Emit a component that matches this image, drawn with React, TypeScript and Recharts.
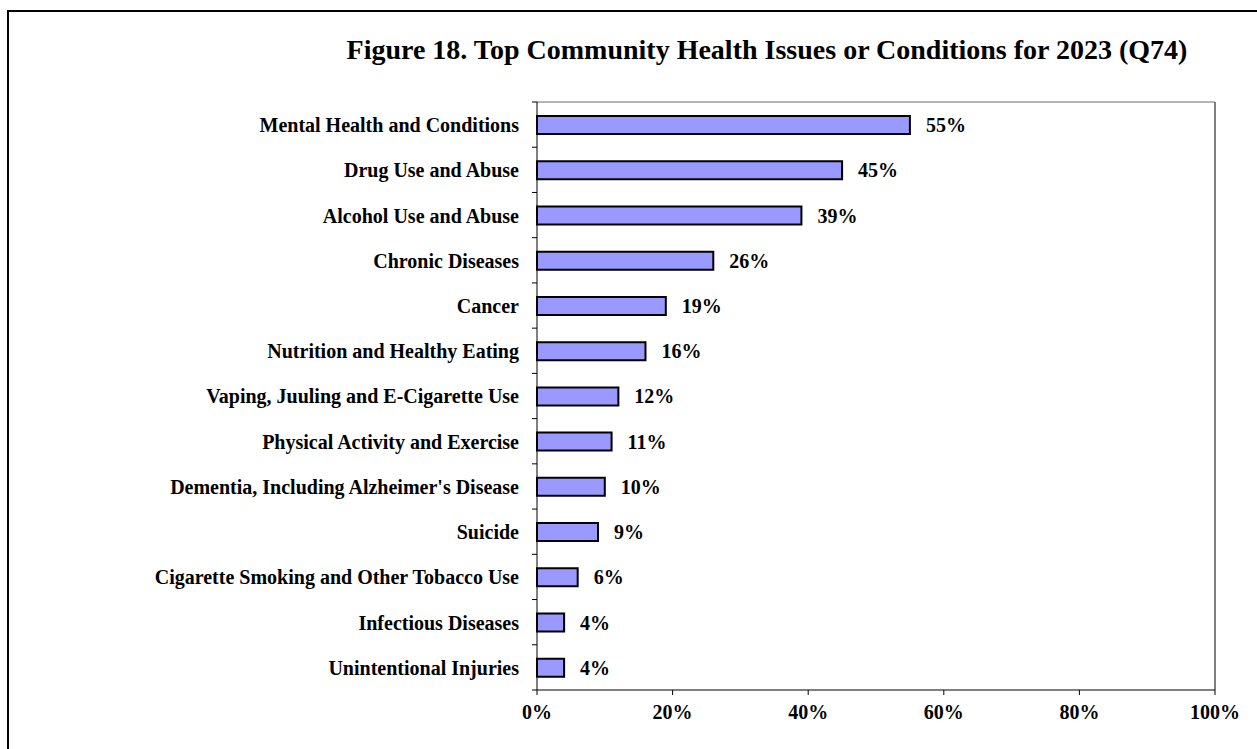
import React from "react";
import {
  BarChart,
  Bar,
  XAxis,
  YAxis,
  LabelList,
  ReferenceLine,
} from "recharts";

const categories = [
  "Mental Health and Conditions",
  "Drug Use and Abuse",
  "Alcohol Use and Abuse",
  "Chronic Diseases",
  "Cancer",
  "Nutrition and Healthy Eating",
  "Vaping, Juuling and E-Cigarette Use",
  "Physical Activity and Exercise",
  "Dementia, Including Alzheimer's Disease",
  "Suicide",
  "Cigarette Smoking and Other Tobacco Use",
  "Infectious Diseases",
  "Unintentional Injuries",
];

const percents = [55, 45, 39, 26, 19, 16, 12, 11, 10, 9, 6, 4, 4];

const xTicks = [0, 20, 40, 60, 80, 100];

// band edges for the category ticks (Excel-style ticks between bars)
const bandEdges = categories.map((_, i) => i).concat([categories.length]);

const data = categories.map((name, i) => ({
  name,
  value: percents[i],
  pos: i + 0.5,
}));

const FONT = "'Liberation Serif', 'Times New Roman', serif";

const textStyle = {
  fontFamily: FONT,
  fontWeight: 700,
  fontSize: 20,
  fill: "#000",
};

const NoTick = () => <g />;

export default function App() {
  return (
    <div style={{ position: "absolute", left: 0, top: 0, width: 1257, height: 749, background: "#fff", overflow: "hidden" }}>
      {/* outer frame, only top and left edges show in the picture */}
      <div
        style={{
          position: "absolute",
          left: 7,
          top: 10,
          width: 1248,
          height: 737,
          borderTop: "2px solid #000",
          borderLeft: "2px solid #000",
        }}
      />
      <div
        style={{
          position: "absolute",
          left: 267,
          top: 34,
          width: 1000,
          textAlign: "center",
          fontFamily: FONT,
          fontWeight: 700,
          fontSize: 28,
          lineHeight: "32px",
          color: "#000",
          whiteSpace: "nowrap",
        }}
      >
        Figure 18. Top Community Health Issues or Conditions for 2023 (Q74)
      </div>
      <div style={{ position: "absolute", left: 0, top: 0 }}>
        <BarChart
          width={1257}
          height={749}
          data={data}
          layout="vertical"
          margin={{ top: 101, right: 42, bottom: 29, left: 0 }}
        >
          <XAxis
            type="number"
            domain={[0, 100]}
            ticks={xTicks}
            interval={0}
            tickFormatter={(v) => `${v}%`}
            tick={textStyle}
            tickSize={5}
            tickMargin={10}
            axisLine={{ stroke: "#000" }}
            tickLine={{ stroke: "#000" }}
            height={30}
          />
          <XAxis
            xAxisId="top"
            orientation="top"
            type="number"
            domain={[0, 100]}
            tick={NoTick}
            tickLine={false}
            height={1}
            axisLine={{ stroke: "#6b6b6b" }}
          />
          <YAxis
            type="number"
            dataKey="pos"
            domain={[0, categories.length]}
            ticks={bandEdges}
            interval={0}
            tick={NoTick}
            tickSize={5}
            width={537}
            axisLine={{ stroke: "#000" }}
            tickLine={{ stroke: "#000" }}
          />
          <ReferenceLine x={100} stroke="#000" strokeWidth={1} />
          <Bar
            dataKey="value"
            fill="#9999FF"
            stroke="#000"
            strokeWidth={2}
            barSize={18}
            isAnimationActive={false}
          >
            <LabelList
              dataKey="name"
              position="left"
              offset={18}
              style={textStyle}
            />
            <LabelList
              dataKey="value"
              position="right"
              offset={16}
              formatter={(v: any) => `${v}%`}
              style={textStyle}
            />
          </Bar>
        </BarChart>
      </div>
    </div>
  );
}
